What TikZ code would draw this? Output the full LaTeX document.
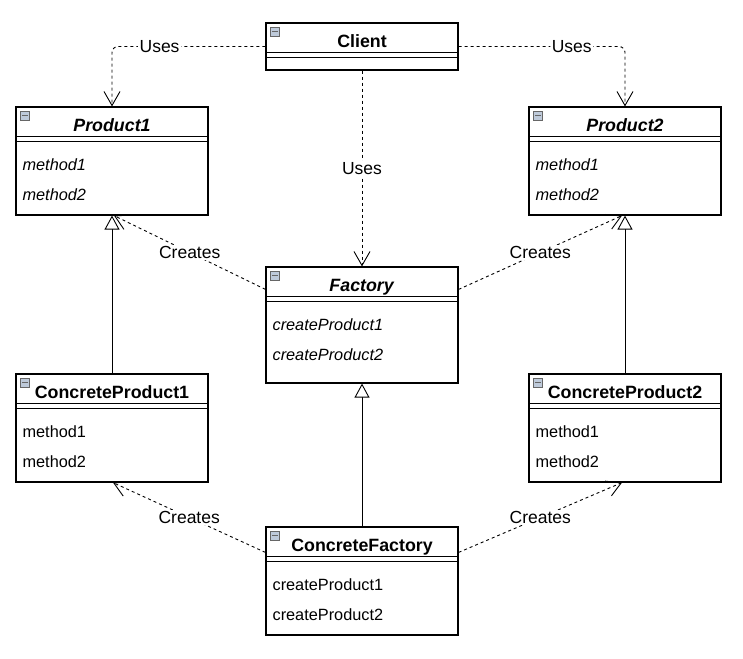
\documentclass[tikz,border=0pt]{standalone}
\usepackage{fontspec}
\setmainfont{Liberation Sans}
\usepackage{tikz}
\usetikzlibrary{arrows.meta}
\definecolor{iconfill}{RGB}{190,202,218}

\begin{document}
\begin{tikzpicture}[x=1pt, y=-1pt,
          cls/.style={draw, line width=1.2pt, minimum width=192pt, inner sep=0pt},
          ttl/.style={anchor=base, inner sep=0pt, font=\fontsize{17.8}{20}\selectfont\bfseries},
          meth/.style={anchor=base west, inner sep=0pt, font=\fontsize{16.3}{19}\selectfont},
          icon/.style={draw=black!60, fill=iconfill, minimum size=9pt, inner sep=0pt,
            path picture={\draw[line width=1.1pt] ([xshift=1.8pt]path picture bounding box.west) -- ([xshift=-1.8pt]path picture bounding box.east);}},
          lbl/.style={fill=white, inner sep=1.5pt, font=\fontsize{17.5}{20}\selectfont},
          dep/.style={dash pattern=on 3pt off 3pt, line width=0.9pt, -{Straight Barb[length=14pt,width=16pt]}},
          inh/.style={line width=0.9pt, -{Triangle[length=14pt,width=15pt,fill=white]}}
        ]
        \useasboundingbox (0,0) rectangle (743,658);
        % class boxes
        \foreach\id/\x/\y/\h/\name in {client/362/46.5/47/Client, prod1/112/161/108/\textit{Product1},
            prod2/625/161/108/\textit{Product2}, factory/362/325/116/\textit{Factory},
            cprod1/112/428/108/ConcreteProduct1, cprod2/625/428/108/ConcreteProduct2,
            cfactory/362/581/108/ConcreteFactory}{
          \node[cls, minimum height=\h pt] (\id) at (\x,\y) {};
          \draw[line width=1.2pt] ([yshift=-30pt]\id.north west) -- ([yshift=-30pt]\id.north east);
          \draw[line width=1.2pt] ([yshift=-35pt]\id.north west) -- ([yshift=-35pt]\id.north east);
          \node[ttl] (\id-t) at ([yshift=-25pt]\id.north) {\name};
          \node[icon] (\id-i) at ([xshift=9.5pt,yshift=-9.5pt]\id.north west) {};
        }
        \foreach\id/\a/\b in {prod1/\textit{method1}/\textit{method2}, prod2/\textit{method1}/\textit{method2},
            factory/\textit{createProduct1}/\textit{createProduct2}, cprod1/method1/method2,
            cprod2/method1/method2, cfactory/createProduct1/createProduct2}{
          \node[meth] (\id-a) at ([xshift=7pt,yshift=-64pt]\id.north west) {\a};
          \node[meth] (\id-b) at ([xshift=7pt,yshift=-94.5pt]\id.north west) {\b};
        }
        % dependencies
        \draw[dep, rounded corners=6pt] (client.west) -| node[lbl, pos=0.345] (u1) {Uses} (prod1.north);
        \draw[dep, rounded corners=6pt] (client.east) -| node[lbl, pos=0.34] (u2) {Uses} (prod2.north);
        \draw[dep] (client.south) -- node[lbl] (u3) {Uses} (factory.north);
        \draw[dep] ([yshift=-23pt]factory.north west) -- node[lbl] (c1) {Creates} ([xshift=2pt]prod1.south);
        \draw[dep] ([yshift=-23pt]factory.north east) -- node[lbl] (c2) {Creates} ([xshift=-3pt]prod2.south);
        \draw[dep] ([yshift=-26pt]cfactory.north west) -- node[lbl] (c3) {Creates} ([xshift=1pt]cprod1.south);
        \draw[dep] ([yshift=-26pt]cfactory.north east) -- node[lbl] (c4) {Creates} ([xshift=-3pt]cprod2.south);
        % inheritance
        \draw[inh] (cprod1.north) -- (prod1.south);
        \draw[inh] (cprod2.north) -- (prod2.south);
        \draw[inh] (cfactory.north) -- (factory.south);
      \end{tikzpicture}
\end{document}
